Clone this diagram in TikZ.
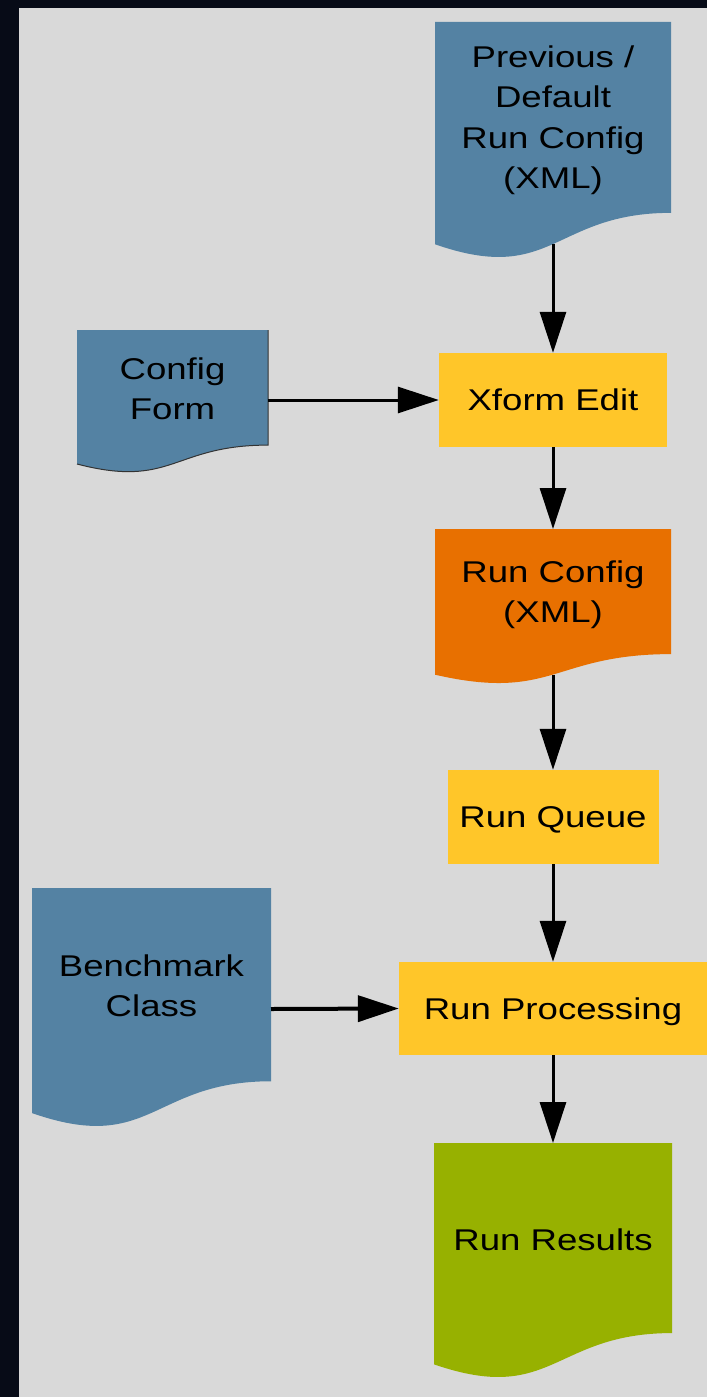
\documentclass[tikz,border=0pt]{standalone}
\usepackage{fontspec}
\setmainfont[FakeStretch=1.22]{Liberation Sans}
\usetikzlibrary{arrows.meta}
\definecolor{bgnavy}{HTML}{070B17}
\definecolor{bggray}{HTML}{D9D9D9}
\definecolor{docblue}{HTML}{5482A3}
\definecolor{procyellow}{HTML}{FFC629}
\definecolor{runorange}{HTML}{E87000}
\definecolor{resgreen}{HTML}{97B100}
% #1=left #2=top #3=width #4=height #5=colour
\newcommand{\docfill}[5]{%
  \pgfmathsetmacro{\dR}{#1+#3}\pgfmathsetmacro{\dM}{#1+0.5*#3}%
  \pgfmathsetmacro{\dA}{#2+0.8019*#4}\pgfmathsetmacro{\dB}{#2+1.1075*#4}%
  \pgfmathsetmacro{\dC}{#2+0.9339*#4}%
  \fill[#5] (#1,#2) -- (\dR,#2) -- (\dR,\dA) .. controls (\dM,\dA) and (\dM,\dB) .. (#1,\dC) -- cycle;}
\tikzset{
  lbl/.style={font=\fontsize{30pt}{40.5pt}\selectfont, text=black, align=center, inner sep=0pt},
  procbox/.style={lbl, fill=procyellow, minimum height=94pt, text height=21.5pt, text depth=0pt},
  arr/.style={line width=3pt, draw=black, -{Triangle[length=41pt,width=26pt]}},
  arrthick/.style={arr, line width=4pt}
}
\begin{document}
\begin{tikzpicture}[x=1pt,y=-1pt]
\fill[bgnavy] (0,0) rectangle (707,1397);
\fill[bggray] (19,8) rectangle (707,1397);
\useasboundingbox (0,0) rectangle (707,1397);

% documents
\docfill{435}{22}{236}{238}{docblue}
\node[lbl] (prev) at (553,120.4) {Previous /\\Default\\Run Config\\(XML)};
\coordinate (prevb) at (553,244.3);

\docfill{77}{330}{191}{143.5}{docblue}
\draw[black!80, line width=1pt] (268,330) -- (268,445.1)
  .. controls (172.5,445.1) and (172.5,488.9) .. (77,464);
\node[lbl] (cfgform) at (172.5,389) {Config\\Form};
\coordinate (cfgr) at (268,400);

\docfill{435}{529}{236}{156}{runorange}
\node[lbl] (runcfg) at (553,594.6) {Run Config\\(XML)};
\coordinate (runcfgt) at (553,529);
\coordinate (runcfgb) at (553,674.7);

\docfill{32}{888}{239}{241}{docblue}
\node[lbl] (bench) at (151.5,986) {Benchmark\\Class};
\coordinate (benchr) at (271,1009);

\docfill{434}{1143}{238}{237}{resgreen}
\node[lbl, text height=21.5pt, text depth=0pt] (results) at (553,1239.5) {Run Results};
\coordinate (resultst) at (553,1143);

% process boxes
\node[procbox, minimum width=228pt] (xform) at (553,400) {Xform Edit};
\node[procbox, minimum width=211pt] (runqueue) at (553,817) {Run Queue};
\node[procbox, minimum width=308pt, minimum height=93pt] (runproc) at (553,1008.5) {Run Processing};

% connectors
\draw[arr] (prevb) -- (xform.north);
\draw[arr] (cfgr) -- (xform.west);
\draw[arr] (xform.south) -- (runcfgt);
\draw[arr] (runcfgb) -- (runqueue.north);
\draw[arr] (runqueue.south) -- (runproc.north);
\draw[arrthick] (benchr) -- (runproc.west);
\draw[arr] (runproc.south) -- (resultst);
\end{tikzpicture}
\end{document}
